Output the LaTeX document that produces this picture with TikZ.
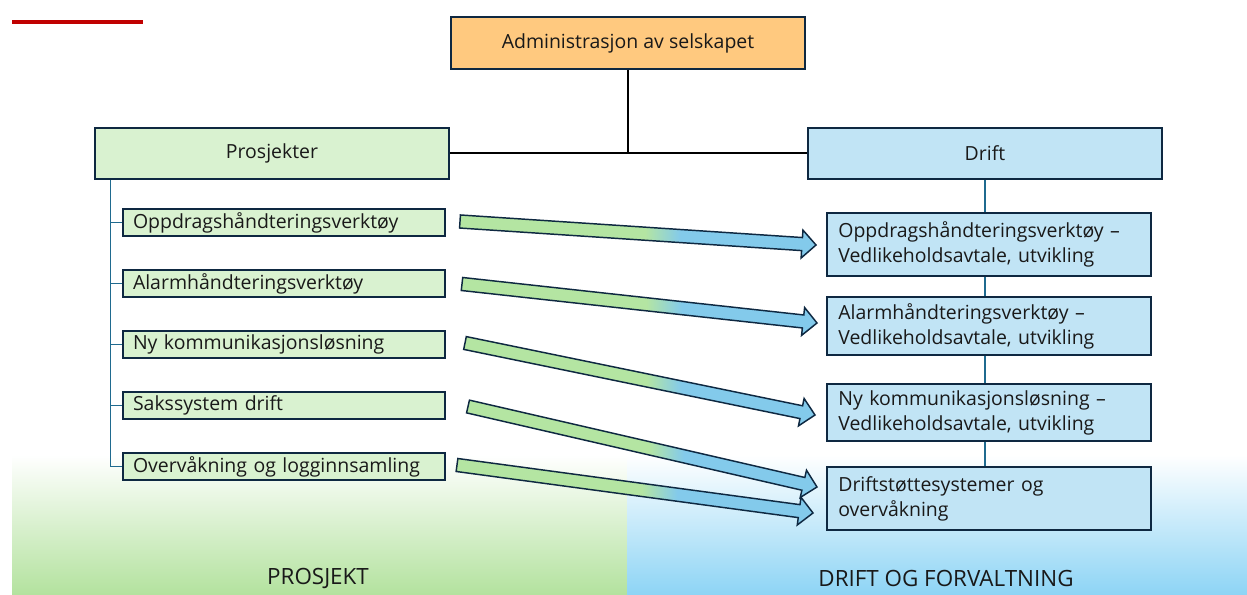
\documentclass[tikz,border=0pt]{standalone}
\usepackage{fontspec}
\setmainfont{Open Sans}
\usetikzlibrary{positioning, calc}

\definecolor{navy}{HTML}{0E2841}
\definecolor{orangefill}{HTML}{FFC97F}
\definecolor{leaf}{HTML}{D9F2D0}
\definecolor{sky}{HTML}{C1E4F5}
\definecolor{trunkblue}{HTML}{1F6A8F}
\definecolor{flowgreen}{HTML}{B4E5A2}
\definecolor{flowblue}{HTML}{83CAEB}
\definecolor{bandgreen}{HTML}{B3E29E}
\definecolor{bandblue}{HTML}{8DD4F5}
\definecolor{accentred}{HTML}{C00000}

\pgfdeclarehorizontalshading{flowgrad}{100bp}{color(0bp)=(flowgreen); color(51bp)=(flowgreen); color(56bp)=(flowblue); color(100bp)=(flowblue)}

% block arrow from tail #1 to tip #2
\newcommand\flowarrow[2]{%
  \coordinate (hb) at ($(#2)!10.5pt!(#1)$);
  \path[flow] ($(#1)!4.9pt!90:(#2)$) -- ($(hb)!4.9pt!90:(#2)$)
    -- ($(hb)!10.5pt!90:(#2)$) -- (#2) -- ($(hb)!10.5pt!-90:(#2)$)
    -- ($(hb)!4.9pt!-90:(#2)$) -- ($(#1)!4.9pt!-90:(#2)$) -- cycle;}

\begin{document}
\begin{tikzpicture}[
  x=0.75pt, y=-0.75pt,
  box/.style={draw=navy, line width=1.5pt, inner sep=0pt, text=black!90,
              font=\fontsize{14.6}{18.75}\selectfont},
  head/.style={box, minimum width=265.5pt, minimum height=38.5pt},
  task/.style={box, fill=leaf, minimum height=20.25pt, inner xsep=7.5pt,
               text width=226.5pt, align=left},
  duty/.style={box, fill=sky, inner xsep=8.5pt, text width=226pt, align=left},
  link/.style={line width=1.5pt, black},
  tree/.style={line width=1.1pt, trunkblue},
  flow/.style={draw=navy, line width=1.1pt, shading=flowgrad},
  band/.style={font=\fontsize{16.8}{20}\selectfont, text=black!90}
]
  \useasboundingbox (0,0) rectangle (1247,595);

  % background bands
  \shade[top color=white, bottom color=bandgreen] (12,455) rectangle (627,595);
  \shade[top color=white, bottom color=bandblue] (627,455) rectangle (1247,595);
  \draw[accentred, line width=2.6pt] (12,22) -- (143,22);

  \node[head, fill=orangefill] (admin) at (628,43) {Administrasjon av selskapet};
  \node[head, fill=leaf] (proj)  at (272,153.5) {Prosjekter};
  \node[head, fill=sky]  (drift) at (985,153.5) {Drift};

  \node[task] (p1) at (284,222.5) {Oppdragshåndteringsverktøy};
  \node[task, below=24pt of p1] (p2) {Alarmhåndteringsverktøy};
  \node[task, below=24pt of p2] (p3) {Ny kommunikasjonsløsning};
  \node[task, below=24pt of p3] (p4) {Sakssystem drift};
  \node[task, below=24pt of p4] (p5) {Overvåkning og logginnsamling};

  \node[duty, minimum height=47.25pt] (d1) at (989,244.5)
    {Oppdragshåndteringsverktøy –\\Vedlikeholdsavtale, utvikling};
  \node[duty, minimum height=43.5pt] (d2) at (989,326)
    {Alarmhåndteringsverktøy –\\Vedlikeholdsavtale, utvikling};
  \node[duty, minimum height=42.75pt] (d3) at (989,412.5)
    {Ny kommunikasjonsløsning –\\Vedlikeholdsavtale, utvikling};
  \node[duty, minimum height=47.25pt] (d4) at (989,498.5)
    {Driftstøttesystemer og\\overvåkning};

  \node[band] (lblproj)  at (318,578) {PROSJEKT};
  \node[band] (lbldrift) at (946,578) {DRIFT OG FORVALTNING};

  % org lines
  \draw[link] (proj.east) -- (drift.west);
  \draw[link] (admin.south) -- (admin.south |- proj.east);
  \coordinate (trunk) at ($(proj.south west)+(16.5,0)$);
  \draw[tree] (trunk) |- (p5.west);
  \foreach \i in {1,...,4}
    \draw[tree] (trunk |- p\i.west) -- (p\i.west);
  \draw[tree] (drift.south) -- (drift.south |- d1.north);
  \foreach \i/\j in {1/2, 2/3, 3/4}
    \draw[tree] (drift.south |- d\i.south) -- (drift.south |- d\j.north);

  % project -> operations
  \coordinate (t1) at ($(p1.east)+(14,-1)$);   \coordinate (h1) at ($(d1.west)+(-10,0.5)$);
  \coordinate (t2) at ($(p2.east)+(16,0.5)$);  \coordinate (h2) at ($(d2.west)+(-9,-3)$);
  \coordinate (t3) at ($(p3.east)+(19,-1.5)$); \coordinate (h3) at ($(d3.west)+(-11,2.5)$);
  \coordinate (t4) at ($(p4.east)+(22,1)$);    \coordinate (h4) at ($(d4.west)+(-9,-11.5)$);
  \coordinate (t5) at ($(p5.east)+(11,-1.5)$); \coordinate (h5) at ($(d4.west)+(-13,14.5)$);
  \foreach \i in {1,...,5}
    \flowarrow{t\i}{h\i};
\end{tikzpicture}
\end{document}
